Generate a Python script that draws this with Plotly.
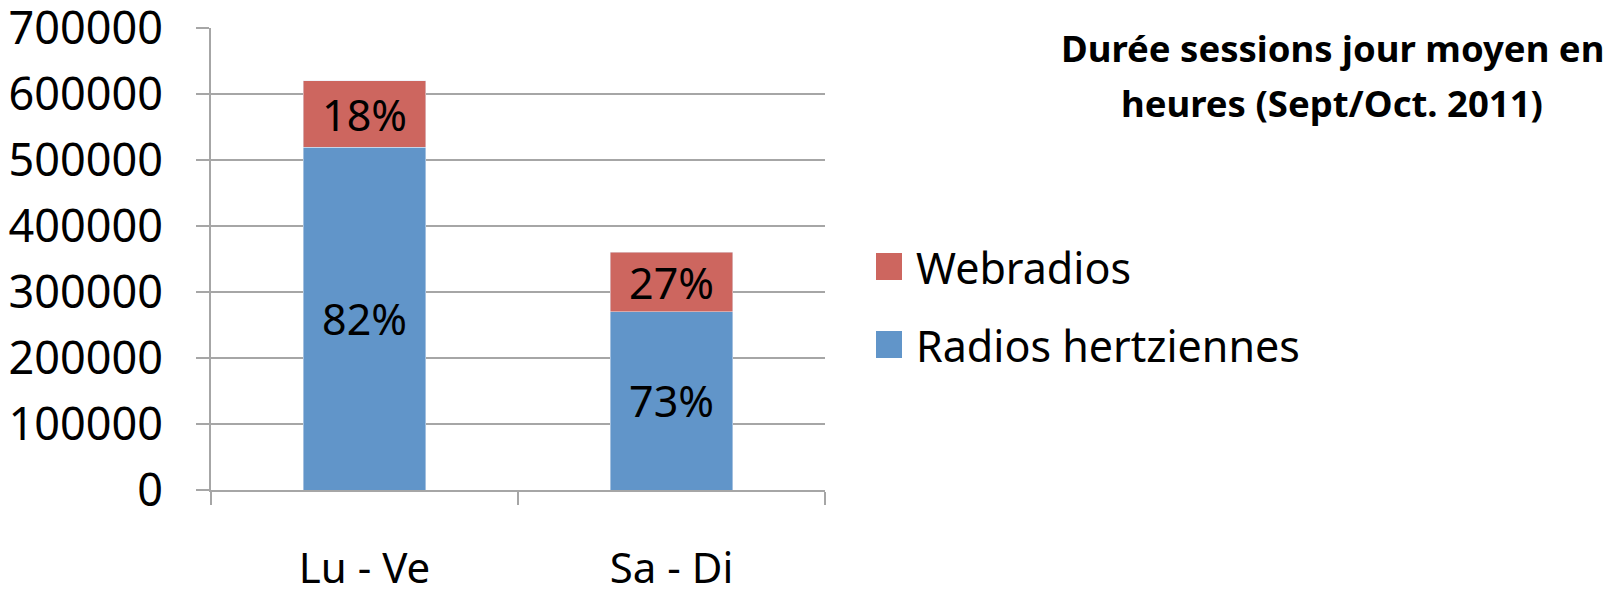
import plotly.graph_objects as go

categories = ["Lu - Ve", "Sa - Di"]
series_names = ["Radios hertziennes", "Webradios"]
radios_values = [519000, 270000]
web_values = [101000, 90000]
radios_labels = ["82%", "73%"]
web_labels = ["18%", "27%"]
y_ticks = [0, 100000, 200000, 300000, 400000, 500000, 600000, 700000]
title_lines = ["Durée sessions jour moyen en", "heures (Sept/Oct. 2011)"]

BLUE = "#6195C9"
RED = "#CD665F"
GRID = "#A6A6A6"
FONT = "Noto Sans"

W, H = 1611, 590
L, R, T, B = 211, 825, 28, 490


def px(x):
    return (x - L) / (R - L)


def py(y):
    return (B - y) / (B - T)


fig = go.Figure()
fig.add_trace(go.Bar(
    x=categories, y=radios_values, name=series_names[0], marker_color=BLUE,
    text=radios_labels, textposition="inside", insidetextanchor="middle",
    textangle=0, constraintext="none",
    textfont=dict(family=FONT, size=43, color="black"), showlegend=False))
fig.add_trace(go.Bar(
    x=categories, y=web_values, name=series_names[1], marker_color=RED,
    text=web_labels, textposition="inside", insidetextanchor="middle",
    textangle=0, constraintext="none",
    textfont=dict(family=FONT, size=43, color="black"), showlegend=False))

fig.update_layout(
    barmode="stack", bargap=0.6,
    width=W, height=H,
    margin=dict(l=L, r=W - R, t=T, b=H - B, pad=0, autoexpand=False),
    plot_bgcolor="white", paper_bgcolor="white",
    font=dict(family=FONT, color="black"),
    showlegend=False,
)
fig.update_xaxes(
    automargin=False,
    showgrid=False, showline=True, linecolor=GRID, linewidth=2,
    ticks="outside", tickson="boundaries", ticklen=13, tickcolor=GRID, tickwidth=2,
    tickfont=dict(family=FONT, size=42), ticklabelstandoff=41,
)
fig.update_yaxes(
    automargin=False, ticklabeloverflow="allow",
    range=[0, 700000], tickvals=y_ticks, ticktext=[str(v) for v in y_ticks],
    showgrid=True, gridcolor=GRID, gridwidth=2,
    showline=True, linecolor=GRID, linewidth=2,
    ticks="outside", ticklen=13, tickcolor=GRID, tickwidth=2,
    tickfont=dict(family=FONT, size=45), ticklabelstandoff=24,
    zeroline=False,
)

# Title
for line, yc in zip(title_lines, [48, 103]):
    fig.add_annotation(text="<b>%s</b>" % line, xref="paper", yref="paper",
                       x=px(1332), y=py(yc), xanchor="center", yanchor="middle",
                       showarrow=False, font=dict(family=FONT, size=36.5, color="black"))

# Legend (Webradios on top)
legend_items = [(series_names[1], RED, 253, 280), (series_names[0], BLUE, 331, 358)]
for name, col, y0, y1 in legend_items:
    fig.add_shape(type="rect", xref="paper", yref="paper",
                  x0=px(876), x1=px(902), y0=py(y1), y1=py(y0),
                  fillcolor=col, line=dict(width=0))
    fig.add_annotation(text=name, xref="paper", yref="paper",
                       x=px(914), y=py((y0 + y1) / 2 + 1), xanchor="left", yanchor="middle",
                       showarrow=False, font=dict(family=FONT, size=43, color="black"))

fig.write_html("out.html", config={"displayModeBar": False},
               post_script="document.body.style.margin='0px';document.body.style.overflow='hidden';")
